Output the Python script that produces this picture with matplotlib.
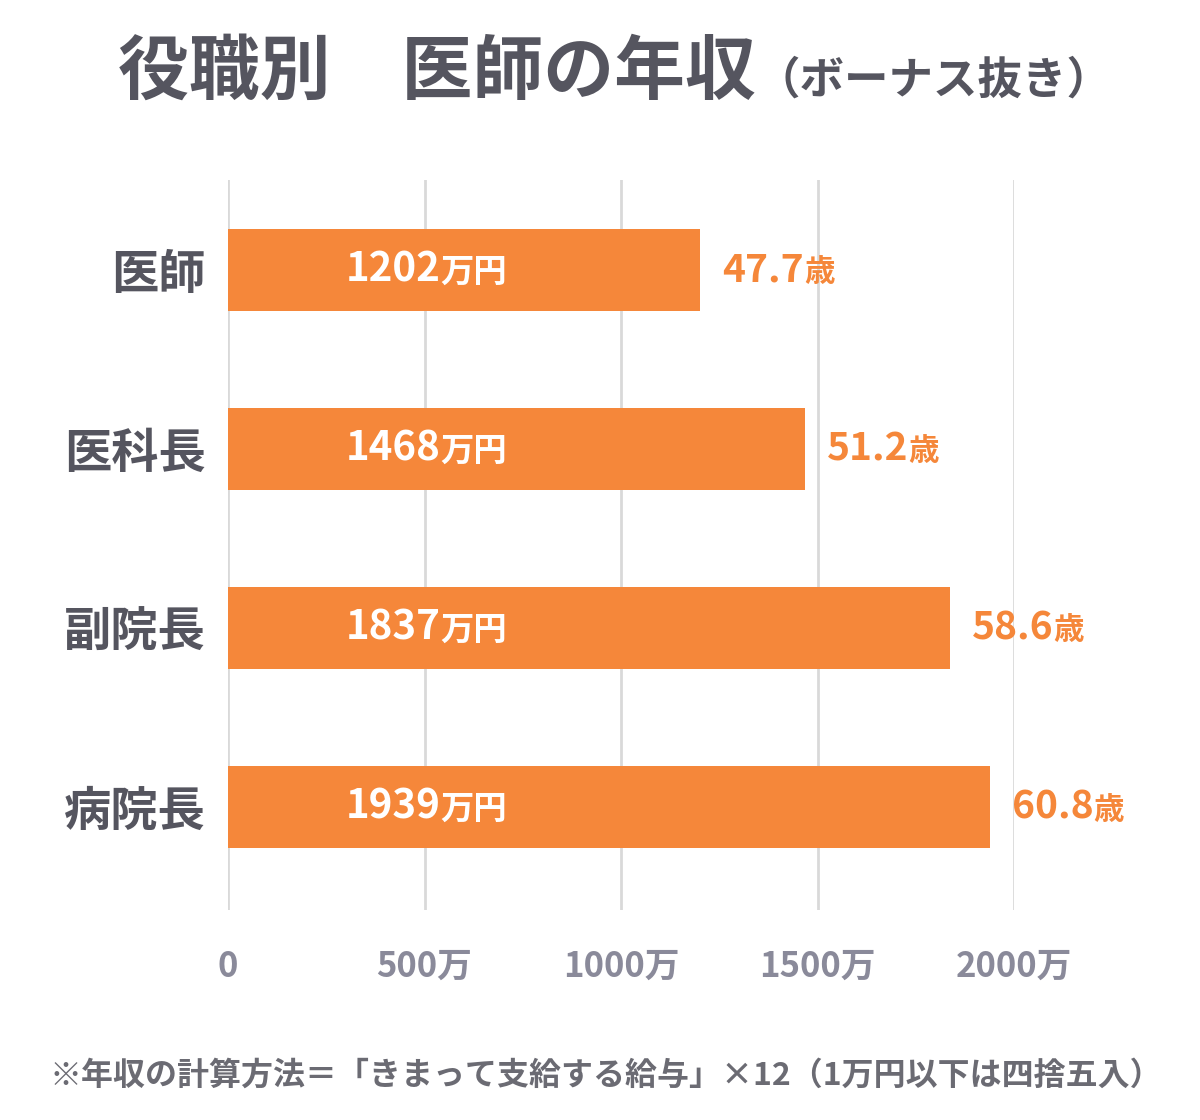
import matplotlib
matplotlib.use("Agg")
import matplotlib.pyplot as plt
from matplotlib.offsetbox import TextArea, HPacker, AnnotationBbox

plt.rcParams['font.family'] = ['Noto Sans CJK JP', 'DejaVu Sans']

# データ
positions = ['医師', '医科長', '副院長', '病院長']
salary = [1202, 1468, 1837, 1939]      # 万円
age = [47.7, 51.2, 58.6, 60.8]         # 歳
xticks = [0, 500, 1000, 1500, 2000]
xtick_labels = ['0', '500万', '1000万', '1500万', '2000万']

orange = '#F5873A'
dark = '#55555F'
gray = '#8A8A9A'

fig = plt.figure(figsize=(12, 11.2), dpi=100)
ax = fig.add_axes([0.19, 0.1875, 0.655, 0.652])

ypos = list(range(len(positions)))
ax.barh(ypos, salary, height=0.46, color=orange, zorder=2)

ax.set_xlim(0, 2000)
ax.set_ylim(3.575, -0.503)
ax.set_xticks(xticks)
ax.set_xticklabels(xtick_labels)
ax.set_yticks(ypos)
ax.set_yticklabels(positions)
ax.tick_params(axis='x', length=0, pad=28, labelsize=25, labelcolor=gray)
ax.tick_params(axis='y', length=0, pad=16, labelsize=34, labelcolor=dark)
for lab in ax.get_xticklabels() + ax.get_yticklabels():
    lab.set_fontweight('bold')
ax.grid(axis='x', color='#D9D9D9', linewidth=2, zorder=0)
for s in ax.spines.values():
    s.set_visible(False)


def two_part(x, y, big, small, color, bsize, ssize, align=(0, 0.5)):
    box = HPacker(children=[
        TextArea(big, textprops=dict(color=color, fontsize=bsize, fontweight='bold')),
        TextArea(small, textprops=dict(color=color, fontsize=ssize, fontweight='bold')),
    ], align='baseline', pad=0, sep=0)
    ab = AnnotationBbox(box, (x, y), xycoords='data', box_alignment=align,
                        frameon=False, pad=0, annotation_clip=False, zorder=3)
    ax.add_artist(ab)


for i, (s, a) in enumerate(zip(salary, age)):
    two_part(300, i, str(s), '万円', 'white', 29, 24)
    two_part(s + 56, i, f'{a}', '歳', orange, 28, 22)

# タイトル
title = HPacker(children=[
    TextArea('役職別　医師の年収', textprops=dict(color=dark, fontsize=51, fontweight='bold')),
    TextArea('（ボーナス抜き）', textprops=dict(color=dark, fontsize=32, fontweight='bold')),
], align='baseline', pad=0, sep=0)
fig.add_artist(AnnotationBbox(title, (0.5125, 0.935), xycoords='figure fraction',
                              frameon=False, pad=0, box_alignment=(0.5, 0.5)))

fig.text(0.505, 0.04, '※年収の計算方法＝「きまって支給する給与」×12（1万円以下は四捨五入）',
         ha='center', va='center', fontsize=23, fontweight='bold', color='#6B6B73')

fig.savefig('out.png', dpi=100, facecolor='white')
